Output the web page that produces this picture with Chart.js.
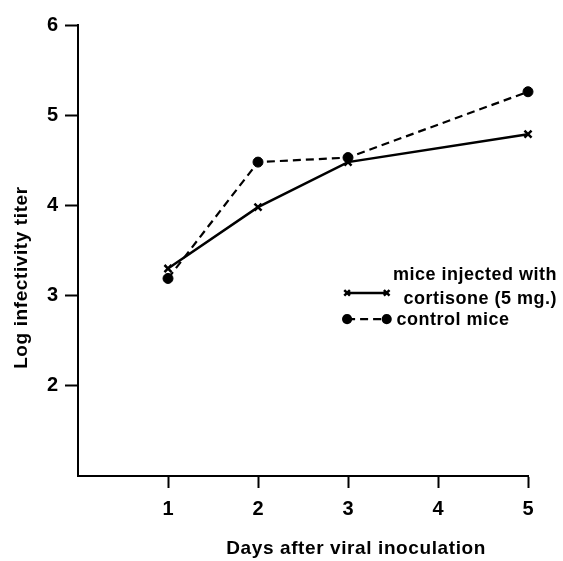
<!DOCTYPE html>
<html><head><meta charset="utf-8">
<script src="https://cdn.jsdelivr.net/npm/chart.js@4.4.0/dist/chart.umd.min.js"></script>
<style>html,body{margin:0;padding:0;background:#fff;}</style>
</head><body>
<canvas id="c" width="563" height="561" style="width:563px;height:561px;display:block"></canvas>
<script>
// ---- data ----
const days = [1, 2, 3, 5];
const cortisone = [3.3, 3.98, 4.48, 4.79];
const control = [3.19, 4.48, 4.53, 5.26];
const xTicks = [1, 2, 3, 4, 5];
const yTicks = [2, 3, 4, 5, 6];
const seriesLabels = [['mice injected with', 'cortisone (5 mg.)'], ['control mice']];
const xTitle = 'Days after viral inoculation';
const yTitle = 'Log infectivity titer';

const FONT = "'Liberation Sans', Arial, sans-serif";

const legendAndTitles = {
  id: 'legendAndTitles',
  afterDatasetsDraw(chart) {
    const ctx = chart.ctx;
    const xs = chart.scales.x, ys = chart.scales.y;
    const ca = chart.chartArea;
    ctx.save();
    ctx.fillStyle = '#000';
    ctx.strokeStyle = '#000';
    // legend
    const lx0 = xs.getPixelForValue(2.99), lx1 = xs.getPixelForValue(3.43);
    const rows = [ys.getPixelForValue(3.03), ys.getPixelForValue(2.74)];
    chart.data.datasets.forEach((ds, i) => {
      const y = rows[i];
      ctx.lineWidth = ds.borderWidth;
      ctx.setLineDash(ds.borderDash || []);
      ctx.beginPath(); ctx.moveTo(lx0, y); ctx.lineTo(lx1, y); ctx.stroke();
      ctx.setLineDash([]);
      [lx0, lx1].forEach(px => {
        Chart.helpers.drawPoint(ctx, {pointStyle: ds.pointStyle, radius: ds.pointRadius - 1, borderWidth: ds.pointBorderWidth, rotation: 0}, px, y);
      });
    });
    ctx.font = "bold 18px " + FONT;
    ctx.letterSpacing = '0.5px';
    ctx.textBaseline = 'middle';
    ctx.textAlign = 'right';
    const rightX = ca.right + 29;
    ctx.fillText(seriesLabels[0][0], rightX, ys.getPixelForValue(3.23));
    ctx.fillText(seriesLabels[0][1], rightX, ys.getPixelForValue(2.965));
    ctx.textAlign = 'left';
    ctx.fillText(seriesLabels[1][0], xs.getPixelForValue(3.54), ys.getPixelForValue(2.73));
    // axis titles
    ctx.font = "bold 19px " + FONT;
    ctx.letterSpacing = '0.6px';
    ctx.textAlign = 'center';
    ctx.fillText(xTitle, xs.getPixelForValue(3.09), chart.height - 12);
    ctx.save();
    ctx.translate(22, ys.getPixelForValue(3.2));
    ctx.rotate(-Math.PI / 2);
    ctx.fillText(yTitle, 0, 0);
    ctx.restore();
    ctx.restore();
  }
};

new Chart(document.getElementById('c'), {
  type: 'line',
  data: {
    datasets: [
      {
        label: seriesLabels[0].join(' '),
        data: days.map((d, i) => ({x: d, y: cortisone[i]})),
        borderColor: '#000', backgroundColor: '#000',
        borderWidth: 2.5, pointStyle: 'crossRot', pointRadius: 5, pointBorderWidth: 2.5,
        tension: 0, fill: false, clip: false
      },
      {
        label: seriesLabels[1][0],
        data: days.map((d, i) => ({x: d, y: control[i]})),
        borderColor: '#000', backgroundColor: '#000',
        borderWidth: 2.2, borderDash: [8, 5], pointStyle: 'circle', pointRadius: 5, pointBorderWidth: 1,
        tension: 0, fill: false, clip: false
      }
    ]
  },
  options: {
    responsive: false, animation: false,
    layout: {padding: {top: 25, right: 35, left: 0, bottom: 0}},
    plugins: {legend: {display: false}, tooltip: {enabled: false}, title: {display: false}},
    scales: {
      x: {
        type: 'linear', min: 0, max: 5,
        afterBuildTicks: s => { s.ticks = xTicks.map(v => ({value: v})); },
        afterFit: s => { s.height = 85; },
        ticks: {color: '#000', font: {family: FONT, size: 20, weight: 'bold'}, padding: 9, maxRotation: 0},
        grid: {drawOnChartArea: false, drawTicks: true, tickLength: 12, tickWidth: 2, tickColor: '#000'},
        border: {display: true, color: '#000', width: 2}
      },
      y: {
        type: 'linear', min: 1, max: 6,
        afterBuildTicks: s => { s.ticks = yTicks.map(v => ({value: v})); },
        afterFit: s => { s.width = 78; },
        ticks: {color: '#000', font: {family: FONT, size: 20, weight: 'bold'}, padding: 7},
        grid: {drawOnChartArea: false, drawTicks: true, tickLength: 13, tickWidth: 2, tickColor: '#000'},
        border: {display: true, color: '#000', width: 2}
      }
    }
  },
  plugins: [legendAndTitles]
});
</script>
</body></html>
